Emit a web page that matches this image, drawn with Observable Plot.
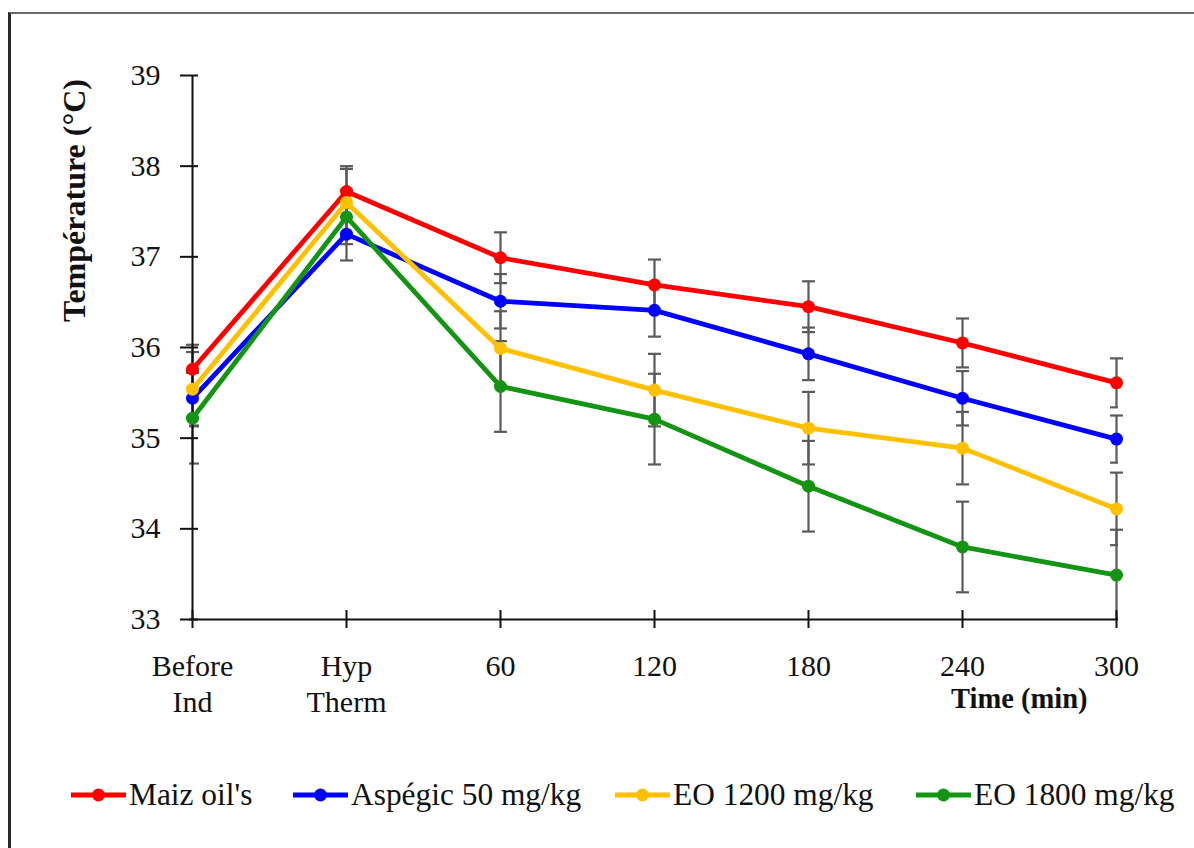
<!DOCTYPE html>
<html>
<head>
<meta charset="utf-8">
<script src="https://cdn.jsdelivr.net/npm/d3@7"></script>
<script src="https://cdn.jsdelivr.net/npm/@observablehq/plot@0.6"></script>
<style>
  html, body { margin: 0; padding: 0; background: #fff; }
  #page { position: relative; width: 1194px; height: 848px; overflow: hidden; font-family: "Liberation Serif", "Times New Roman", serif; }
  #frame { position: absolute; left: 8px; top: 12px; right: -10px; bottom: -10px; border-left: 3px solid #2a2a2a; border-top: 2px solid #6a6a6a; }
  #chart { position: absolute; left: 0; top: 0; }
  .leg { position: absolute; top: 778px; height: 34px; display: flex; align-items: center; font-size: 31.4px; color: #111; white-space: nowrap; }
  .leg svg { margin-right: 2px; }
</style>
</head>
<body>
<div id="page">
  <div id="frame"></div>
  <div id="chart"></div>
  <div id="legend"></div>
</div>
<script>
// ---- data ----
const categories = ["Before Ind", "Hyp Therm", "60", "120", "180", "240", "300"];
const tickLabels = ["Before\nInd", "Hyp\nTherm", "60", "120", "180", "240", "300"];
const yTicks = [33, 34, 35, 36, 37, 38, 39];
const seriesNames = ["Maiz oil's", "Aspégic 50 mg/kg", "EO 1200 mg/kg", "EO 1800 mg/kg"];
const seriesColors = ["#ff0000", "#0000ff", "#ffc000", "#139413"];

const maiz    = [35.76, 37.72, 36.99, 36.69, 36.45, 36.05, 35.61];
const aspegic = [35.44, 37.25, 36.51, 36.41, 35.93, 35.44, 34.99];
const eo1200  = [35.54, 37.60, 35.99, 35.53, 35.11, 34.89, 34.22];
const eo1800  = [35.22, 37.44, 35.57, 35.21, 34.47, 33.80, 33.49];

const maizErr    = [0.27, 0.28, 0.28, 0.28, 0.28, 0.27, 0.27];
const aspegicErr = [0.30, 0.29, 0.30, 0.29, 0.29, 0.30, 0.26];
const eo1200Err  = [0.41, 0.37, 0.41, 0.40, 0.40, 0.40, 0.40];
const eo1800Err  = [0.50, 0.30, 0.50, 0.50, 0.50, 0.50, 0.50];

const yTitle = "Température (°C)";
const xTitle = "Time (min)";

// ---- build table ----
const seriesValues = [maiz, aspegic, eo1200, eo1800];
const seriesErrors = [maizErr, aspegicErr, eo1200Err, eo1800Err];
const rows = [];
seriesNames.forEach((s, i) => {
  categories.forEach((c, j) => {
    rows.push({series: s, cat: c, v: seriesValues[i][j], e: seriesErrors[i][j]});
  });
});
const labelOf = new Map(categories.map((c, i) => [c, tickLabels[i]]));

const capSymbol = {
  draw(context, size) {
    const w = Math.sqrt(size / Math.PI);
    context.moveTo(-w, 0);
    context.lineTo(w, 0);
  }
};

const W = 1194, H = 740;
const mL = 189, mR = 76, mT = 75, mB = 121;
const frameW = W - mL - mR, frameH = H - mT - mB;
const errColor = "#5a5a5a";

const chart = Plot.plot({
  width: W,
  height: H,
  marginLeft: mL,
  marginRight: mR,
  marginTop: mT,
  marginBottom: mB,
  style: {fontFamily: "Liberation Serif, Times New Roman, serif", fontSize: "30px", color: "#111", background: "transparent", overflow: "visible"},
  x: {type: "point", domain: categories, padding: 0},
  y: {domain: [33, 39]},
  color: {domain: seriesNames, range: seriesColors},
  marks: [
    Plot.axisY({ticks: yTicks, tickSize: 0, tickPadding: 29, fontSize: 30, tickFormat: d => String(d), label: null}),
    Plot.axisX({tickSize: 0, tickPadding: 32, fontSize: 30, lineHeight: 1.17, tickFormat: d => labelOf.get(d), label: null}),
    // error bars
    Plot.ruleX(rows, {x: "cat", y1: d => Math.max(33, d.v - d.e), y2: d => d.v + d.e, stroke: errColor, strokeWidth: 2.2}),
    Plot.dot(rows, {x: "cat", y: d => d.v + d.e, symbol: capSymbol, r: 6.5, stroke: errColor, strokeWidth: 2.2, fill: "none"}),
    Plot.dot(rows, {x: "cat", y: d => d.v - d.e, symbol: capSymbol, r: 6.5, stroke: errColor, strokeWidth: 2.2, fill: "none", clip: true}),
    // axes lines and crossing ticks
    Plot.ruleY([33], {stroke: "#111", strokeWidth: 2}),
    Plot.ruleX([categories[0]], {y1: 33, y2: 39, stroke: "#111", strokeWidth: 2}),
    Plot.tickY(yTicks, {y: d => d, insetLeft: -9, insetRight: frameW - 9, stroke: "#111", strokeWidth: 2}),
    Plot.tickX(categories, {x: d => d, insetTop: frameH - 9, insetBottom: -9, stroke: "#111", strokeWidth: 2}),
    // series
    Plot.line(rows, {x: "cat", y: "v", z: "series", stroke: "series", strokeWidth: 4.8}),
    Plot.dot(rows, {x: "cat", y: "v", fill: "series", r: 6.5}),
    // titles
    Plot.text([yTitle], {frameAnchor: "top-left", dx: 74 - mL, dy: 200 - mT, rotate: -90, textAnchor: "middle", lineAnchor: "middle", fontWeight: "bold", fontSize: 32, fill: "#111"}),
    Plot.text([xTitle], {frameAnchor: "bottom-right", dx: -31, dy: 88, textAnchor: "end", lineAnchor: "bottom", fontWeight: "bold", fontSize: 28.5, fill: "#111"})
  ]
});
document.getElementById("chart").appendChild(chart);

// ---- legend ----
const legendLeft = [70, 292, 614, 915];
const legend = document.getElementById("legend");
seriesNames.forEach((s, i) => {
  const item = document.createElement("div");
  item.className = "leg";
  item.style.left = legendLeft[i] + "px";
  const c = seriesColors[i];
  item.innerHTML = `<svg width="57" height="20"><line x1="1" y1="10" x2="56" y2="10" stroke="${c}" stroke-width="4.8"/><circle cx="28.5" cy="10" r="6.5" fill="${c}"/></svg><span>${s}</span>`;
  legend.appendChild(item);
});
</script>
</body>
</html>
